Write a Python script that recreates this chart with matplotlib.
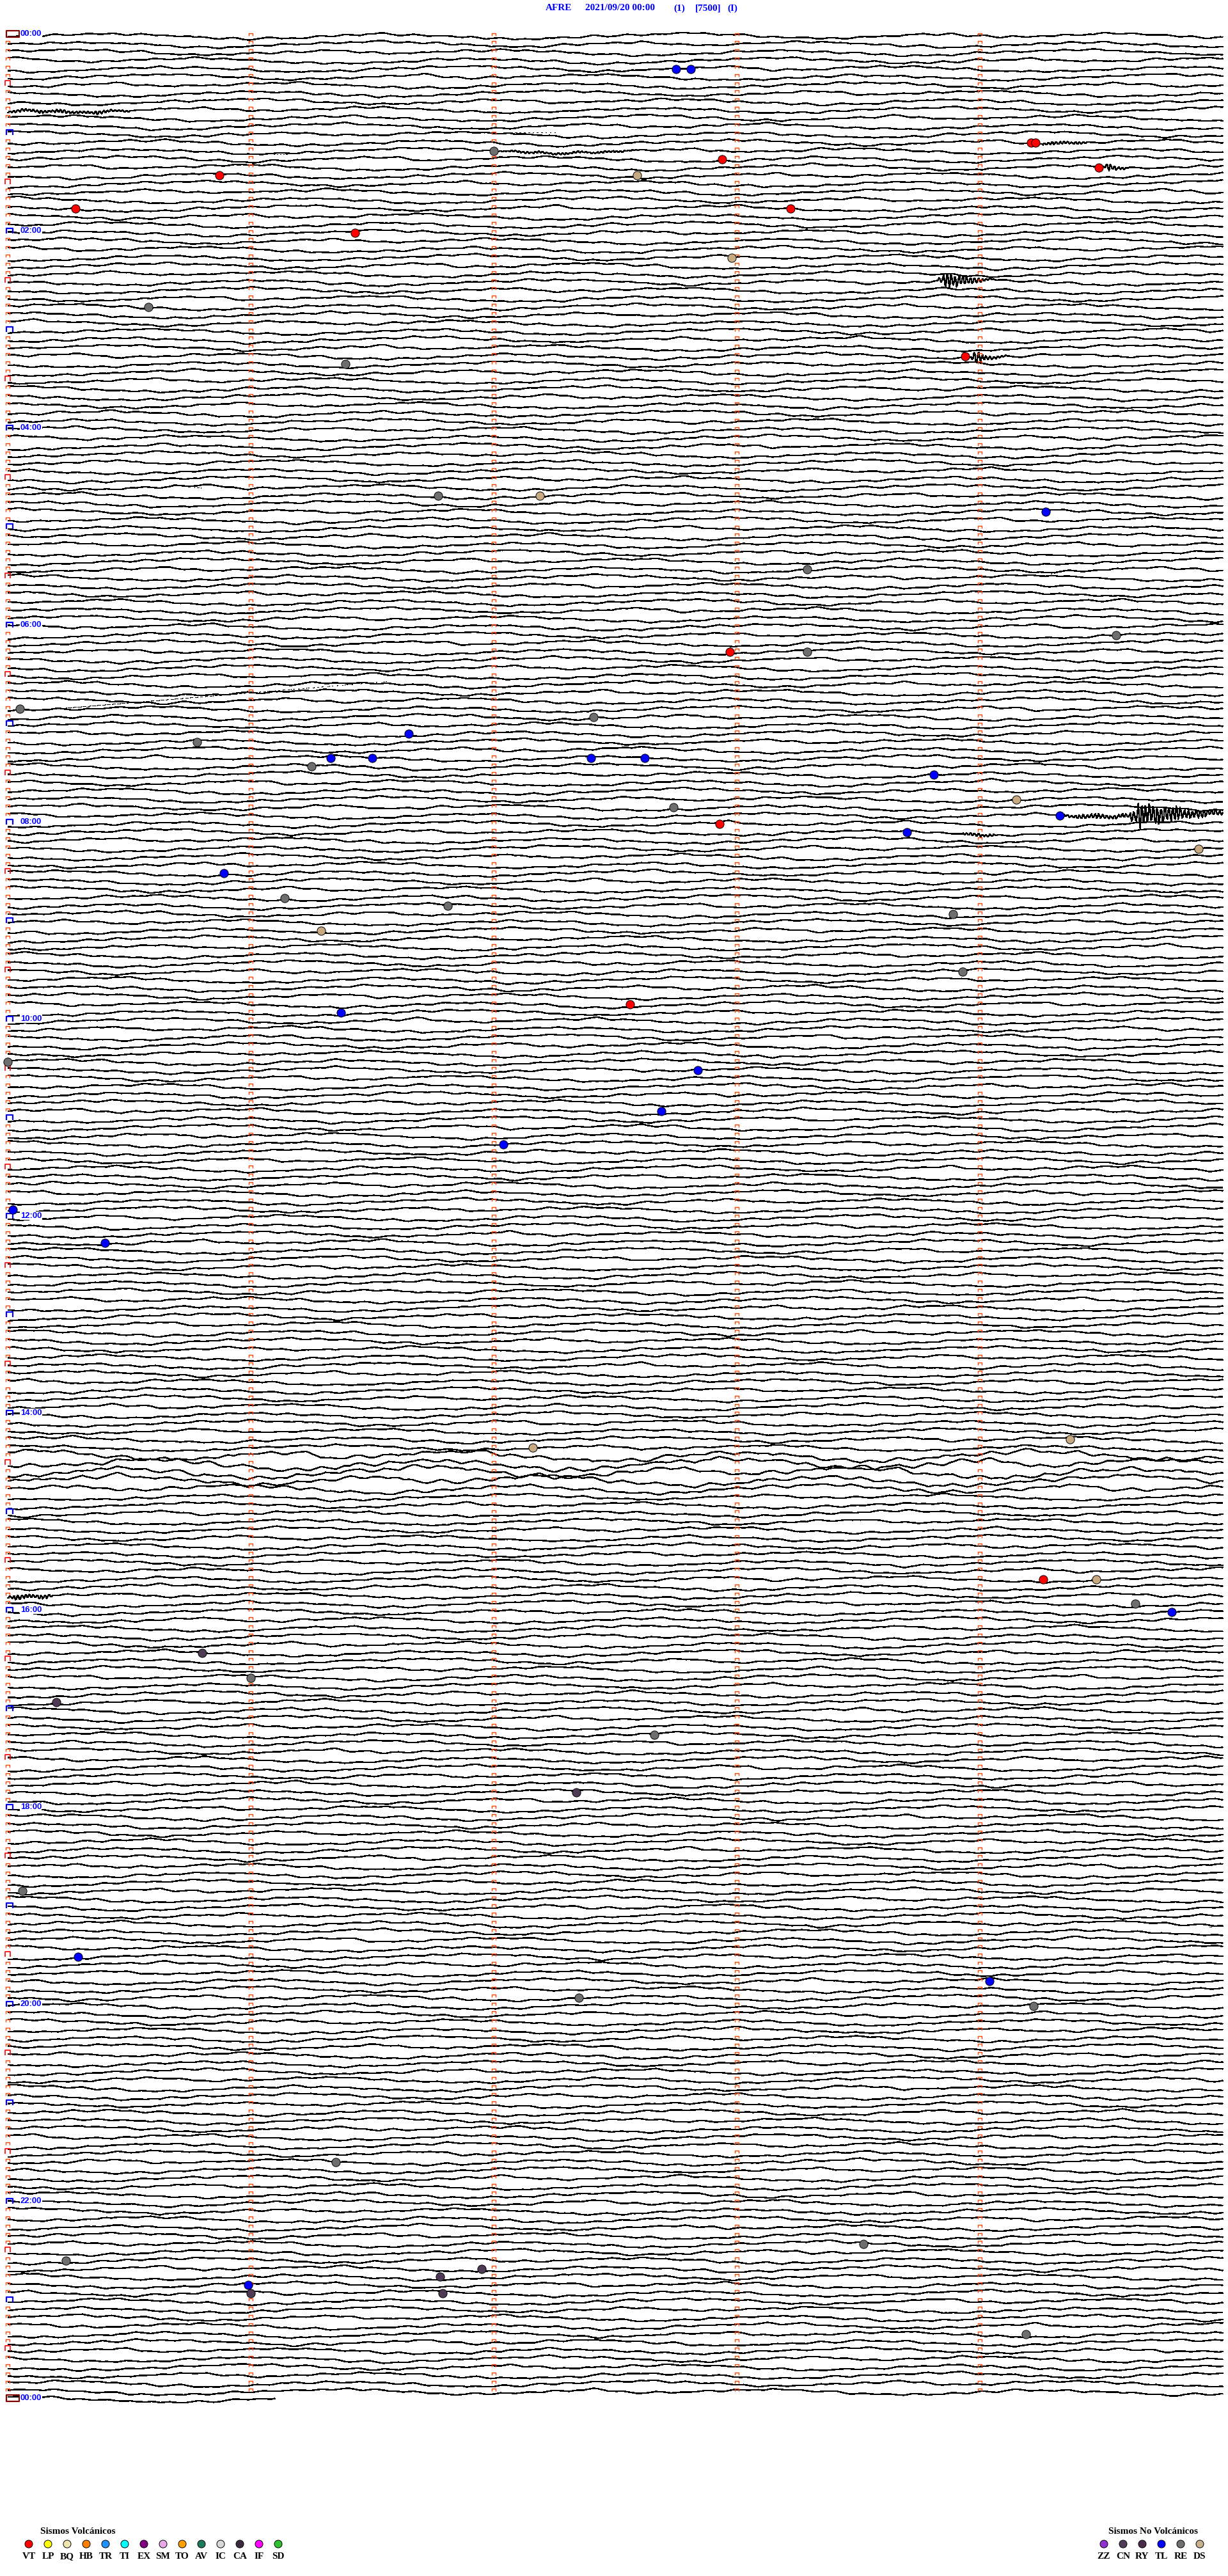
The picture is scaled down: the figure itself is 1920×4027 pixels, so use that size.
import numpy as np
import matplotlib.pyplot as plt
from matplotlib.path import Path
from matplotlib.collections import LineCollection

# helicorder AFRE, one line = 5 minutes, 288 lines per day
header_parts = ["AFRE", "2021/09/20 00:00", "(1)", "[7500]", "(I)"]
n_rows = 288
row_minutes = 5
last_row_end = 1.1          # the 00:00 line of the next day is only started
hour_labels = ["00:00", "02:00", "04:00", "06:00", "08:00", "10:00", "12:00",
               "14:00", "16:00", "18:00", "20:00", "22:00", "00:00"]

# classified events: (line, minute inside the line)
vt_events = [(13, 4.21), (13, 4.23), (15, 2.94), (16, 4.49), (17, 0.87), (21, 0.28),
             (21, 3.22), (24, 1.43), (39, 3.94), (75, 2.97), (96, 2.93), (118, 2.56),
             (188, 4.26)]
re_events = [(14, 2.00), (33, 0.58), (40, 1.39), (56, 1.77), (65, 3.29), (73, 4.56),
             (75, 3.29), (82, 0.05), (83, 2.41), (86, 0.78), (89, 1.25), (94, 2.74),
             (105, 1.14), (106, 1.81), (107, 3.89), (114, 3.93), (125, 0.0), (191, 4.64),
             (200, 1.00), (207, 2.66), (226, 0.06), (239, 2.35), (240, 4.22), (259, 1.35),
             (269, 3.52), (271, 0.24), (280, 4.19)]
tl_events = [(4, 2.75), (4, 2.81), (58, 4.27), (85, 1.65), (88, 1.33), (88, 1.50),
             (88, 2.40), (88, 2.62), (90, 3.81), (95, 4.33), (97, 3.70), (102, 0.89),
             (119, 1.37), (126, 2.84), (131, 2.69), (135, 2.04), (143, 0.02), (147, 0.40),
             (192, 4.79), (234, 0.29), (237, 4.04), (274, 0.99)]
ds_events = [(17, 2.59), (27, 2.98), (56, 2.19), (93, 4.15), (99, 4.90), (109, 1.29),
             (171, 4.37), (172, 2.16), (188, 4.48)]
cn_events = [(197, 0.80), (203, 0.20), (214, 2.34), (272, 1.95), (273, 1.78), (275, 1.00),
             (275, 1.79)]

# signal bursts: (line, start minute, end minute, amplitude in lines, envelope)
bursts = [(9, 0.0, 0.5, 0.2, "tremor"), (13, 4.26, 4.44, 0.2, "tremor"),
          (14, 2.02, 2.60, 0.12, "tremor"), (16, 4.51, 4.62, 0.6, "quake"),
          (30, 3.83, 4.06, 1.3, "quake"), (39, 3.96, 4.12, 0.8, "quake"),
          (95, 4.33, 5.0, 0.3, "tremor"), (95, 4.62, 5.0, 1.5, "quake"),
          (97, 3.93, 4.07, 0.2, "tremor"), (190, 0.0, 0.18, 0.3, "tremor")]
envelopes = {"quake": [0.25, 1.0, 0.9, 0.7, 0.55, 0.45, 0.35, 0.28, 0.22, 0.16, 0.1, 0.06],
             "tremor": [0.6, 0.9, 1.0, 0.8, 1.0, 0.9, 0.7, 1.0, 0.85, 0.6]}
loud_rows = {173: 1.8, 174: 2.0, 175: 2.0, 176: 1.8, 177: 1.5}

# background noise shapes
fast_a = [0.3, -0.2, 0.5, 0.9, 0.4, -0.1, -0.6, -0.3, 0.2, 0.7, 0.1, -0.5, -0.9, -0.4,
          0.1, 0.6, 1.0, 0.5, -0.2, -0.7, -0.3, 0.3, 0.0, -0.4, -0.8, -0.2, 0.4, 0.8,
          0.3, -0.3, -0.6, 0.0, 0.5, 0.2, -0.1, -0.5, 0.1]
fast_b = [-0.4, 0.2, 0.6, 0.1, -0.3, 0.4, 0.9, 0.5, -0.2, -0.8, -0.5, 0.0, 0.3, -0.1,
          -0.6, -1.0, -0.4, 0.2, 0.7, 0.3, -0.2, 0.1, 0.5, 0.8, 0.2, -0.4, -0.7, -0.3,
          0.4, 0.6, 0.0, -0.5, -0.2, 0.3, 0.9, 0.4, -0.3, -0.8, -0.2, 0.1, -0.1]
slow_drift = [0.0, 0.6, 0.9, 0.3, -0.4, -0.8, -0.5, 0.2, 0.7, 0.4, -0.2, -0.9, -0.6,
              0.1, 0.5, 1.0, 0.6, -0.1, -0.7, -0.3, 0.3, 0.8, -0.2]

volc_names = ["VT", "LP", "BQ", "HB", "TR", "TI", "EX", "SM", "TO", "AV", "IC", "CA", "IF", "SD"]
volc_colors = ["#ff0000", "#ffff00", "#f0e4b0", "#ff8000", "#1e90ff", "#00ffff", "#800080",
               "#e8a8e8", "#ffa000", "#1e7a5a", "#d8d8d8", "#3c2a40", "#ff00ff", "#30c030"]
novolc_names = ["ZZ", "CN", "RY", "TL", "RE", "DS"]
novolc_colors = ["#9030d0", "#503c5a", "#4a2c4a", "#0000ff", "#707070", "#c8b08c"]

W, H = 1920, 4027
fig = plt.figure(figsize=(W / 100, H / 100), dpi=100)

# main helicorder axes: minute 0 at px 12, 380 px per minute, 12.832 px per line
y0_px, dy_px = 53, 12.832
top_row, bot_row = -1.8, 290.5
ax = fig.add_axes([0, 1 - (y0_px + dy_px * bot_row) / H, 1,
                   dy_px * (bot_row - top_row) / H])
ax.set_xlim(-12 / 380, (W - 12) / 380)
ax.set_ylim(bot_row, top_row)
ax.axis("off")

t = np.arange(0, row_minutes + 1e-9, 0.004)
k = np.arange(t.size)
fa, fb, sl = np.array(fast_a), np.array(fast_b), np.array(slow_drift)


def smooth(v, n):
    return np.convolve(np.pad(v, n, mode="edge"), np.ones(n) / n, mode="same")[n:-n]


segs = []
for r in range(n_rows + 1):
    amp = loud_rows.get(r, 1.0)
    fast = 0.12 * fa[(k // 5 + 13 * r) % fa.size] + 0.08 * fb[(k // 8 + 29 * r) % fb.size]
    fast = smooth(fast, 5)
    slow = smooth(sl[(k // 45 + 7 * r) % sl.size], 45)
    y = r + 0.3 - amp * (fast + 0.4 * slow)
    for br, b0, b1, bamp, kind in bursts:
        if br != r:
            continue
        env = np.array(envelopes[kind])
        m = (t >= b0) & (t <= b1)
        u = (t[m] - b0) / (b1 - b0)
        idx = np.minimum((u * env.size).astype(int), env.size - 1)
        osc = np.where((k[m] // 2) % 2 == 0, 1, -1) * (0.3 + 0.7 * np.abs(fb[(k[m] * 7) % fb.size]))
        y[m] += bamp * env[idx] * osc
    end = last_row_end if r == n_rows else row_minutes
    keep = t <= end
    segs.append(np.column_stack([t[keep], y[keep]]))
ax.add_collection(LineCollection(segs, colors="black", linewidths=1.0, antialiased=False,
                                 zorder=1))

# minute ticks along each line
bracket = Path([(-1, -0.8), (-1, 0.8), (1, 0.8), (1, -0.8)],
               [Path.MOVETO, Path.LINETO, Path.LINETO, Path.LINETO])
rows = np.arange(n_rows)
for mnt in range(1, row_minutes):
    ax.plot(np.full(rows.size, mnt), rows + 0.05, ls="none", marker=bracket, ms=4.1,
            mfc="none", mec="#ff4500", mew=1.0, zorder=3)
plain = [r for r in range(1, n_rows) if r % 6 != 0]
ax.plot(np.zeros(len(plain)), np.array(plain) + 0.05, ls="none", marker=bracket, ms=4.1,
        mfc="none", mec="#ff4500", mew=1.0, zorder=3)

half = [r for r in range(6, n_rows, 12)]
ax.plot(np.zeros(len(half)), np.array(half) - 0.02, ls="none",
        marker=Path([(-0.9, -1), (-0.9, 1), (0.9, 1), (0.9, -1)],
                    [Path.MOVETO, Path.LINETO, Path.LINETO, Path.LINETO]),
        ms=6.3, mfc="none", mec="#ff0000", mew=1.2, zorder=3)
hours = [r for r in range(12, n_rows, 12)]
ax.plot(np.full(len(hours), 0.008), np.array(hours), ls="none",
        marker=Path([(-1, -0.7), (-1, 0.7), (1, 0.7), (1, -0.7)],
                    [Path.MOVETO, Path.LINETO, Path.LINETO, Path.LINETO]),
        ms=7.9, mfc="none", mec="#0000ff", mew=1.6, zorder=3)
ax.plot([0.02, 0.02], [0, n_rows], ls="none",
        marker=Path([(-1, -0.52), (-1, 0.52), (1, 0.52), (1, -0.52), (-1, -0.52)],
                    [Path.MOVETO, Path.LINETO, Path.LINETO, Path.LINETO, Path.CLOSEPOLY]),
        ms=15, mfc="none", mec="#800000", mew=1.6, zorder=3)

for i, lab in enumerate(hour_labels):
    ax.text(0.052, i * 24, lab, color="#0000ff", fontsize=9.4, fontweight="bold",
            family="Liberation Sans", ha="left", va="center", zorder=4,
            bbox=dict(facecolor="white", edgecolor="none", pad=0.3))

for evs, col in [(vt_events, "#ff0000"), (re_events, "#6e6e6e"), (tl_events, "#0000ff"),
                 (ds_events, "#c8aa82"), (cn_events, "#4f3a55")]:
    er = np.array([e[0] for e in evs])
    em = np.array([e[1] for e in evs])
    ax.plot(em, er + 0.25, ls="none", marker="o", ms=9.5, mfc=col, mec="black", mew=0.7,
            zorder=5, clip_on=False)

# header
for txt, px in zip(header_parts, [853, 915, 1053, 1087, 1137]):
    fig.text(px / W, 1 - 13 / H, txt, color="#0000ff", fontsize=11, fontweight="bold",
             family="Liberation Serif", ha="left", va="center")


# legends
def legend(left_px, names, colors, title, title_px):
    lax = fig.add_axes([(left_px - 15) / W, 1 - 4010 / H, 30 * len(names) / W, 70 / H])
    lax.set_xlim(-0.5, len(names) - 0.5)
    lax.set_ylim(0, 1)
    lax.axis("off")
    xs = np.arange(len(names))
    lax.scatter(xs, np.full(len(names), 0.471), s=75, c=colors, edgecolors="black",
                linewidths=0.7)
    for x, n in zip(xs, names):
        lax.text(x, 0.186, n, ha="center", va="center", fontsize=11, fontweight="bold",
                 family="Liberation Serif")
    lax.text((title_px - left_px) / 30, 0.757, title, ha="left", va="center", fontsize=11,
             fontweight="bold", family="Liberation Serif")


legend(45, volc_names, volc_colors, "Sismos Volcánicos", 63)
legend(1726, novolc_names, novolc_colors, "Sismos No Volcánicos", 1733)

fig.savefig("out.png", dpi=100, facecolor="white")
